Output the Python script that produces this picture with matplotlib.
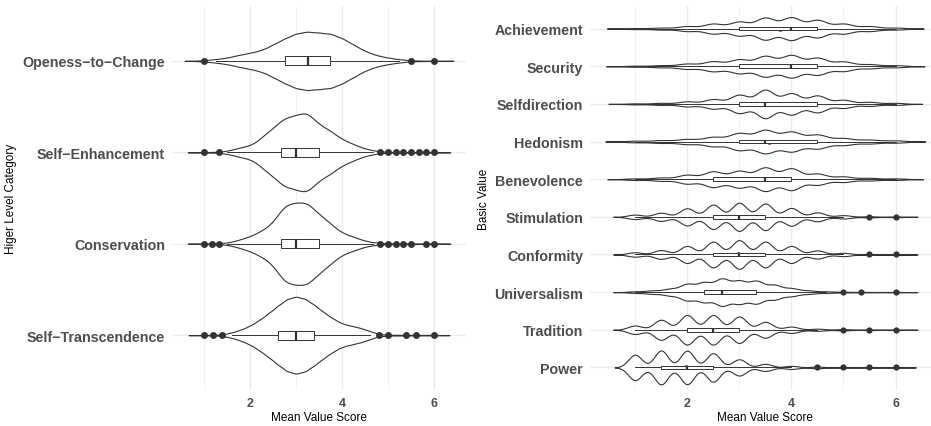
import numpy as np
import matplotlib
matplotlib.use("Agg")
import matplotlib.pyplot as plt

plt.rcParams["font.family"] = ["Liberation Sans", "DejaVu Sans"]

# ---------------- left panel: higher level categories (bottom -> top)
higher_cats = ["Self\u2212Transcendence", "Conservation", "Self\u2212Enhancement", "Openess\u2212to\u2212Change"]
fifth_steps = [1.0, 1.2, 1.4, 1.6, 1.8, 2.0, 2.2, 2.4, 2.6, 2.8, 3.0, 3.2, 3.4,
               3.6, 3.8, 4.0, 4.2, 4.4, 4.6, 4.8, 5.0, 5.2, 5.4, 5.6, 5.8, 6.0]
sixth_steps = [1.0, 1.17, 1.33, 1.5, 1.67, 1.83, 2.0, 2.17, 2.33, 2.5, 2.67, 2.83,
               3.0, 3.17, 3.33, 3.5, 3.67, 3.83, 4.0, 4.17, 4.33, 4.5, 4.67, 4.83,
               5.0, 5.17, 5.33, 5.5, 5.67, 5.83, 6.0]
quarter_steps = [1.0, 1.25, 1.5, 1.75, 2.0, 2.25, 2.5, 2.75, 3.0, 3.25, 3.5,
                 3.75, 4.0, 4.25, 4.5, 4.75, 5.0, 5.25, 5.5, 5.75, 6.0]
# relative frequency of mean scores
transcendence_w = [0.2, 0.3, 0.7, 2.5, 5.3, 9, 14.5, 21, 28, 34.7, 37.3, 35, 29,
                   22, 16, 11, 9, 7, 4, 1, 0.4, 0.3, 0.3, 0.3, 0.2, 0.3]
conservation_w = [0.2, 0.3, 0.4, 1, 2.4, 4.5, 7, 10, 13.5, 20.5, 30, 36, 38.7,
                  37.5, 33.5, 28, 21, 15, 10.5, 7.3, 5, 2.8, 1.3, 0.6, 0.4, 0.3,
                  0.3, 0.3, 0.2, 0.3, 0.3]
enhancement_w = [0.2, 0.3, 0.6, 1.5, 3.5, 5.3, 7.3, 11.5, 18.5, 26, 32, 36, 39.5,
                 41, 36.5, 30, 24, 19, 14, 10, 6.5, 4, 2, 0.8, 0.4, 0.3, 0.3,
                 0.3, 0.3, 0.3, 0.3]
openness_w = [0.7, 1.8, 3.5, 6.3, 8.7, 11.5, 17.5, 24, 29.5, 31.7, 30.2, 29.5,
              24.5, 17.5, 10.5, 6, 3.5, 1.7, 0.5, 0.2, 0.1]
higher_bw = [0.112, 0.117, 0.117, 0.14]
higher_q1 = [2.6, 2.67, 2.67, 2.75]
higher_med = [3.0, 3.0, 3.0, 3.25]
higher_q3 = [3.4, 3.5, 3.5, 3.75]
higher_wlo = [1.6, 1.5, 1.5, 1.25]
higher_whi = [4.6, 4.67, 4.67, 5.25]
higher_out = [[1, 1.2, 1.4, 4.8, 5, 5.4, 5.6, 6],
              [1, 1.17, 1.33, 4.83, 5, 5.17, 5.33, 5.5, 5.83, 6],
              [1, 1.33, 4.83, 5, 5.17, 5.33, 5.5, 5.67, 5.83, 6],
              [1, 5.5, 6]]

# ---------------- right panel: basic values (bottom -> top)
basic_values = ["Power", "Tradition", "Universalism", "Conformity", "Stimulation",
                "Benevolence", "Hedonism", "Selfdirection", "Security", "Achievement"]
half_steps = [1.0, 1.5, 2.0, 2.5, 3.0, 3.5, 4.0, 4.5, 5.0, 5.5, 6.0]
third_steps = [1.0, 1.33, 1.67, 2.0, 2.33, 2.67, 3.0, 3.33, 3.67, 4.0,
               4.33, 4.67, 5.0, 5.33, 5.67, 6.0]
power_w = [12.5, 16.7, 16.5, 14, 8, 3.5, 1.5, 0.8, 0.5, 0.3, 0.3]
tradition_w = [4, 9.5, 14, 14, 12.5, 7.5, 3, 1, 0.6, 0.3, 0.3]
universalism_w = [0.7, 1.5, 3, 7.3, 8.7, 12, 10, 10, 6.5, 3.5, 1.5, 0.7, 0.3, 0.2, 0.1, 0.2]
conformity_w = [2, 4, 7.7, 11.7, 13, 11.7, 7.7, 3.7, 1.5, 0.5, 0.3]
stimulation_w = [2, 3.7, 7.7, 11, 12.7, 12, 8, 4, 1.5, 0.5, 0.3]
benevolence_w = [0.7, 1.5, 4, 7, 7.5, 10.5, 9.7, 5, 2.5, 1.2, 0.7]
hedonism_w = [0.7, 1.2, 2.2, 4, 7.3, 10, 8.5, 6, 3, 1.7, 1]
selfdirection_w = [0.5, 1, 2.5, 4.7, 9, 14, 10.5, 8.3, 4, 2, 1]
security_w = [0.5, 1, 2.5, 4.7, 6.5, 9.7, 10.5, 8, 4.5, 2, 1]
achievement_w = [0.5, 1, 2.5, 5, 7, 11, 11.3, 8.7, 5, 2.5, 1]
basic_bw = [0.13, 0.14, 0.14, 0.14, 0.14, 0.177, 0.19, 0.17, 0.185, 0.18]
basic_q1 = [1.5, 2.0, 2.33, 2.5, 2.5, 2.5, 3.0, 3.0, 3.0, 3.0]
basic_med = [2.0, 2.5, 2.67, 3.0, 3.0, 3.5, 3.5, 3.5, 4.0, 4.0]
basic_q3 = [2.5, 3.0, 3.33, 3.5, 3.5, 4.0, 4.5, 4.5, 4.5, 4.5]
basic_wlo = [1, 1, 1, 1, 1, 1, 1, 1, 1, 1]
basic_whi = [4.0, 4.5, 4.67, 5.0, 5.0, 6, 6, 6, 6, 6]
basic_out = [[4.5, 5, 5.5, 6], [5, 5.5, 6], [5, 5.33, 6], [5.5, 6], [5.5, 6],
             [], [], [], [], []]
basic_mean = [1.97, 2.48, 2.76, 2.98, 2.98, 3.30, 3.58, 3.70, 3.74, 3.78]

TXT = "#4D4D4D"
INK = "#333333"


def density(grid, weights, bw):
    g = np.asarray(grid, float)
    w = np.asarray(weights, float)
    x = np.linspace(g.min() - 3 * bw, g.max() + 3 * bw, 512)
    k = np.exp(-0.5 * ((x[:, None] - g[None, :]) / bw) ** 2)
    d = (k * w[None, :]).sum(axis=1) / (w.sum() * bw * np.sqrt(2 * np.pi))
    return x, d


def draw_panel(ax, names, grids, weights, bws, q1, med, q3, wlo, whi, outs, means=None, ms=5):
    pos = np.arange(1, len(names) + 1)
    curves = [density(g, w, b) for g, w, b in zip(grids, weights, bws)]
    dmax = max(d.max() for _, d in curves)   # area scaling like ggplot
    for p, (x, d) in zip(pos, curves):
        hw = 0.45 * d / dmax
        ax.fill_between(x, p - hw, p + hw, facecolor="white", edgecolor=INK,
                        linewidth=0.8, zorder=2)
    if means is not None:
        ax.plot(means, pos, "o", color="#e04040", ms=3.6, mec="none", zorder=2.5)
    stats = []
    for i in range(len(names)):
        stats.append(dict(med=med[i], q1=q1[i], q3=q3[i], whislo=wlo[i],
                          whishi=whi[i], fliers=outs[i]))
    ax.bxp(stats, positions=pos, widths=0.1, orientation="horizontal",
           showcaps=False, patch_artist=True, manage_ticks=False,
           boxprops=dict(facecolor="white", edgecolor=INK, linewidth=0.7),
           whiskerprops=dict(color=INK, linewidth=0.7),
           medianprops=dict(color=INK, linewidth=1.6),
           flierprops=dict(marker="o", markerfacecolor=INK, markeredgecolor="none",
                           markersize=ms), zorder=3)
    ax.set_yticks(pos)
    ax.set_yticklabels(names, fontsize=10.3, fontweight="bold", color=TXT)
    ax.set_ylim(0.4, len(names) + 0.6)
    ax.set_xticks([2, 4, 6])
    ax.set_xticklabels(["2", "4", "6"], fontsize=9, fontweight="bold", color=TXT)
    ax.set_xticks([1, 3, 5], minor=True)
    ax.tick_params(axis="both", which="both", length=0)
    ax.tick_params(axis="y", pad=5)
    ax.tick_params(axis="x", pad=5)
    ax.grid(True, which="major", color="#EBEBEB", linewidth=1.0)
    ax.grid(True, which="minor", axis="x", color="#EBEBEB", linewidth=0.5)
    ax.set_axisbelow(True)
    for s in ax.spines.values():
        s.set_visible(False)


fig = plt.figure(figsize=(9.31, 4.27), dpi=100)
ax1 = fig.add_axes([172 / 931, 36 / 427, 294 / 931, 384 / 427])
ax2 = fig.add_axes([590 / 931, 36 / 427, 341 / 931, 384 / 427])

draw_panel(ax1, higher_cats, [fifth_steps, sixth_steps, sixth_steps, quarter_steps],
           [transcendence_w, conservation_w, enhancement_w, openness_w],
           higher_bw, higher_q1, higher_med, higher_q3, higher_wlo, higher_whi,
           higher_out, ms=5)
ax1.set_xlim(0.304, 6.696)

basic_grids = [half_steps, half_steps, third_steps] + [half_steps] * 7
draw_panel(ax2, basic_values, basic_grids,
           [power_w, tradition_w, universalism_w, conformity_w, stimulation_w,
            benevolence_w, hedonism_w, selfdirection_w, security_w, achievement_w],
           basic_bw, basic_q1, basic_med, basic_q3, basic_wlo, basic_whi,
           basic_out, means=basic_mean, ms=4.5)
ax2.set_xlim(0.136, 6.681)

ax1.set_xlabel("Mean Value Score", fontsize=8.5, va="center")
ax1.xaxis.set_label_coords(0.5, -0.07)
ax1.set_ylabel("Higer Level Category", fontsize=8.5, va="center")
ax1.yaxis.set_label_coords(-0.546, 0.5)

ax2.set_xlabel("Mean Value Score", fontsize=8.5, va="center")
ax2.xaxis.set_label_coords(0.513, -0.07)
ax2.set_ylabel("Basic Value", fontsize=8.5, va="center")
ax2.yaxis.set_label_coords(-0.312, 0.5)

fig.savefig("out.png", dpi=100)
